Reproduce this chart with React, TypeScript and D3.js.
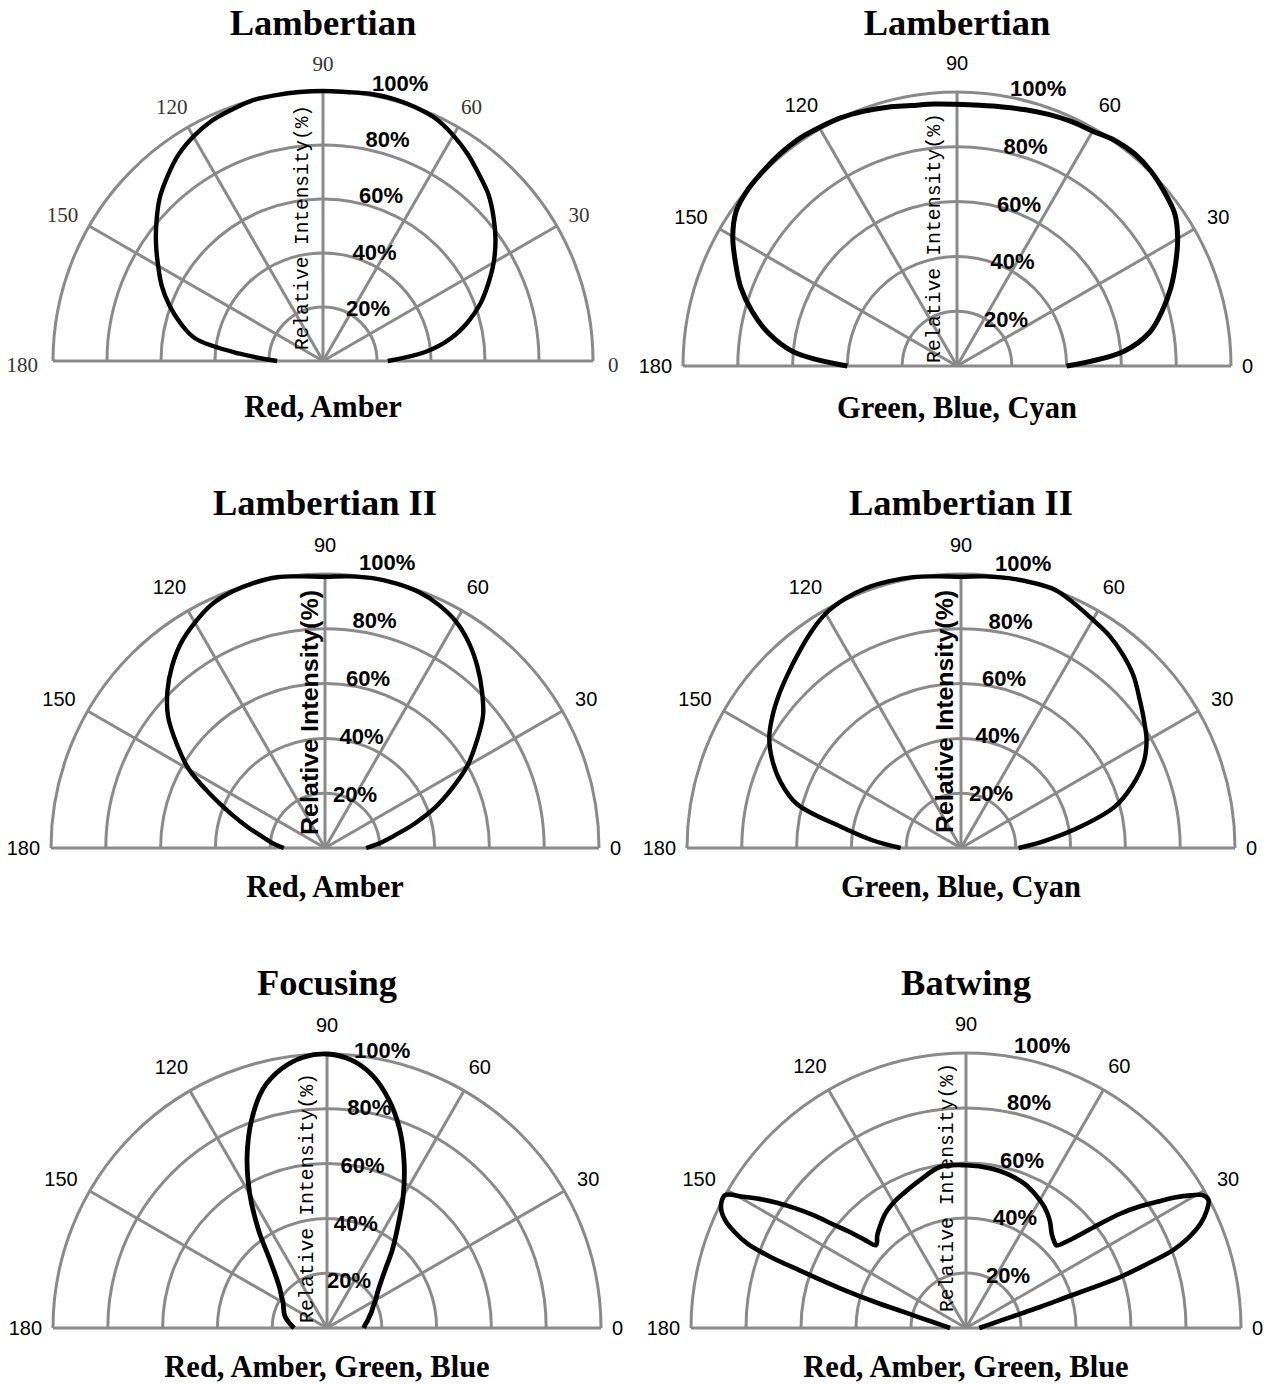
import React from "react";
import * as d3 from "d3";

// ---------- DATA ----------
const angles5 = [0, 5, 10, 15, 20, 25, 30, 35, 40, 45, 50, 55, 60, 65, 70, 75, 80, 85, 90, 95, 100, 105, 110, 115, 120, 125, 130, 135, 140, 145, 150, 155, 160, 165, 170, 175, 180];

const lambertianRedAmber = [24, 38, 48, 55.5, 62, 67.5, 73, 78, 82.5, 86.8, 90, 93.5, 96.5, 99, 100, 100.5, 100.5, 100, 100, 100, 100, 100, 99, 98, 96, 93.3, 89.5, 85.5, 80.5, 75.5, 70.5, 65.9, 60.6, 54.8, 48, 31, 17];
const lambertianGreenBlueCyan = [40, 61, 71.5, 77.5, 83, 88, 93, 97, 98.8, 100.3, 101, 100.5, 99, 98.5, 97.7, 96.8, 96, 95.5, 95.5, 96, 96.5, 97.8, 99, 100, 100.5, 101, 100.8, 100.3, 99.8, 98.4, 94.5, 89.2, 84, 77.5, 70, 60, 40];
const lambertianIIRedAmber = [15, 20, 25.5, 33.5, 42.5, 51, 60, 67.5, 75.3, 81, 86.5, 91.5, 95.5, 98, 99.5, 100, 100, 99.5, 99, 99.5, 100.4, 100.2, 99.5, 98, 95, 91.5, 86.8, 81.3, 74.8, 66, 57.3, 46, 36.5, 29, 23, 19, 15];
const lambertianIIGreenBlueCyan = [21, 31, 44, 58, 66.5, 73.5, 78.2, 81.5, 85, 89, 92, 94.5, 96.2, 98.3, 100.3, 100.3, 100, 99.5, 99, 99.5, 100.4, 100.8, 101, 100.3, 98.8, 95.8, 92.5, 89.5, 86.8, 84, 80.8, 76, 70, 62, 44.5, 32.5, 22];
const focusingRAGB = [13.4, 14, 15, 16, 17.3, 18.6, 20.5, 22.5, 25.5, 30, 37, 45, 55.6, 66.6, 77.4, 86.6, 93.9, 98.3, 100, 99.2, 96, 90.3, 80.6, 69, 56.3, 43.5, 32.4, 26.2, 22.5, 20.3, 18.5, 17.5, 16.7, 15.8, 14.5, 13.2, 12];

const batwingAngles = [0, 5, 10, 12, 14, 15, 15.8, 17, 18.3, 19.5, 20.6, 22, 24, 26, 27.8, 29.3, 30.5, 32, 33.5, 35, 36.5, 38, 40, 42.5, 44, 46, 48, 52, 57, 62, 68, 75, 80.7, 90, 99.2, 107.3, 113, 118.8, 125, 130.5, 134, 136, 137.5, 139, 140.5, 142, 143.5, 145, 146.5, 148, 149.5, 151.1, 152.8, 154.5, 155.9, 157.5, 158.9, 160, 160.9, 162.5, 164.3, 165, 166, 170, 175, 180];
const batwingValues = [4.8, 6.5, 10, 12.8, 18, 22.5, 28, 37.6, 59, 70, 80.3, 87, 93.4, 97.4, 99.7, 98.7, 95, 89.5, 83, 77, 70, 61, 50.5, 44.5, 44.8, 45.5, 46.5, 49.5, 52.4, 54.5, 56.6, 58, 58.7, 59.2, 59.3, 56.3, 54.5, 53, 51, 48.3, 46.5, 45, 44.5, 49, 55, 61, 69, 76, 82.5, 88.6, 94, 100, 100, 98.5, 95.9, 91, 85.2, 76, 64.1, 48, 32.6, 26.7, 21.5, 12, 7.8, 5.8];

const ringLevels = [20, 40, 60, 80, 100];
const ringLabels = ["20%", "40%", "60%", "80%", "100%"];
const spokeAngles = [0, 30, 60, 90, 120, 150, 180];
const spokeLabels = ["0", "30", "60", "90", "120", "150", "180"];

const titles = ["Lambertian", "Lambertian", "Lambertian II", "Lambertian II", "Focusing", "Batwing"];
const subtitles = ["Red, Amber", "Green, Blue, Cyan", "Red, Amber", "Green, Blue, Cyan", "Red, Amber, Green, Blue", "Red, Amber, Green, Blue"];
const axisTitle = "Relative Intensity(%)";

const seriesAngles = [angles5, angles5, angles5, angles5, angles5, batwingAngles];
const seriesValues = [lambertianRedAmber, lambertianGreenBlueCyan, lambertianIIRedAmber, lambertianIIGreenBlueCyan, focusingRAGB, batwingValues];

// ---------- LAYOUT ----------
const panels = [
  { cx: 323, cy: 361, R: 270, titleY: 35, subY: 417, serifTicks: true, riMono: true, riDx: -21, riY: 227.5, riLen: 245, pL20: 23, pL100: 49, pY20: 1, pY100: -8, sw: 4.4 },
  { cx: 957, cy: 366, R: 274, titleY: 35, subY: 418, serifTicks: false, riMono: true, riDx: -23, riY: 238, riLen: 250, pL20: 27, pL100: 53, pY20: 7.5, pY100: -3.5, sw: 5 },
  { cx: 325, cy: 848, R: 274, titleY: 515, subY: 897, serifTicks: false, riMono: false, riDx: -15, riY: 712.5, riLen: 245, pL20: 8, pL100: 34, pY20: 0.5, pY100: -11.5, sw: 4.4 },
  { cx: 961, cy: 848, R: 274, titleY: 515, subY: 897, serifTicks: false, riMono: false, riDx: -16, riY: 711.5, riLen: 243, pL20: 8, pL100: 34, pY20: -0.5, pY100: -10.5, sw: 4.4 },
  { cx: 327, cy: 1328, R: 274, titleY: 995, subY: 1377, serifTicks: false, riMono: true, riDx: -20, riY: 1198, riLen: 250, pL20: 0, pL100: 27, pY20: 7, pY100: -4, sw: 4.8 },
  { cx: 966, cy: 1328, R: 275, titleY: 995, subY: 1377, serifTicks: false, riMono: true, riDx: -19, riY: 1187.5, riLen: 249, pL20: 20, pL100: 48, pY20: 2, pY100: -8, sw: 4.6 },
];

const GRID = "#8a8a8a";
const SANS = "'Liberation Sans', Arial, sans-serif";
const SERIF = "'Liberation Serif', 'Times New Roman', serif";
const MONO = "'Liberation Mono', 'DejaVu Sans Mono', monospace";

function Panel({ p, i }: { p: any; i: number }) {
  const r = d3.scaleLinear().domain([0, 100]).range([0, p.R]);
  const toRad = (deg: number) => (deg * Math.PI) / 180;
  const arc = d3.arc();
  const angs = seriesAngles[i];
  const vals = seriesValues[i];
  const pts: [number, number][] = angs.map((a: number, k: number) => [a, vals[k]]);
  const line = d3
    .lineRadial<[number, number]>()
    .angle((d) => Math.PI / 2 - toRad(d[0]))
    .radius((d) => r(d[1]))
    .curve(d3.curveCatmullRom.alpha(0.5));

  const tickFs = p.serifTicks ? 21 : 20;
  const pctFs = 22;

  return (
    <g>
      <text x={p.cx} y={p.titleY} textAnchor="middle" fontFamily={SERIF} fontWeight="bold" fontSize={36.5} fill="#000">
        {titles[i]}
      </text>
      <text x={p.cx} y={p.subY} textAnchor="middle" fontFamily={SERIF} fontWeight="bold" fontSize={30.5} fill="#000">
        {subtitles[i]}
      </text>
      <g transform={`translate(${p.cx},${p.cy})`}>
        {ringLevels.map((lv) => (
          <path
            key={"ring" + lv}
            d={arc({ innerRadius: r(lv), outerRadius: r(lv), startAngle: -Math.PI / 2, endAngle: Math.PI / 2 } as any) as string}
            fill="none"
            stroke={GRID}
            strokeWidth={3}
          />
        ))}
        {spokeAngles.map((a) => (
          <line
            key={"sp" + a}
            x1={0}
            y1={0}
            x2={r(100) * Math.cos(toRad(a))}
            y2={-r(100) * Math.sin(toRad(a))}
            stroke={GRID}
            strokeWidth={3}
          />
        ))}
        {spokeAngles.map((a, k) => {
          const c = Math.cos(toRad(a));
          const s = Math.sin(toRad(a));
          const label = spokeLabels[k];
          const w = label.length * (p.serifTicks ? 0.5 : 0.556) * tickFs;
          const h = 0.72 * tickFs;
          const dd = p.serifTicks ? 15 + 5 * Math.pow(s, 8) : 11 + 11 * s;
          const bx = (p.R + dd) * c + (c * w) / 2;
          let by = -(p.R + dd) * s - (s * h) / 2;
          if (p.serifTicks && (a === 0 || a === 180)) by += 3;
          return (
            <text
              key={"sl" + a}
              x={bx}
              y={by + 0.36 * tickFs}
              textAnchor="middle"
              fontFamily={p.serifTicks ? SERIF : SANS}
              fontSize={tickFs}
              fill={p.serifTicks ? "#333" : "#000"}
            >
              {label}
            </text>
          );
        })}
        {ringLevels.map((lv, k) => {
          const t = k / 4;
          const left = p.pL20 + (p.pL100 - p.pL20) * t;
          const yc = -r(lv) + p.pY20 + (p.pY100 - p.pY20) * t;
          return (
            <text key={"pl" + lv} x={left} y={yc + 0.36 * pctFs} fontFamily={SANS} fontWeight="bold" fontSize={pctFs} fill="#000">
              {ringLabels[k]}
            </text>
          );
        })}
        <text
          x={p.riDx}
          y={p.riY - p.cy}
          transform={`rotate(-90 ${p.riDx} ${p.riY - p.cy})`}
          textAnchor="middle"
          dominantBaseline="central"
          fontFamily={p.riMono ? MONO : SANS}
          fontWeight="bold"
          fontSize={p.riMono ? 21 : 23}
          textLength={p.riLen}
          lengthAdjust="spacingAndGlyphs"
          fill="#000"
          style={p.riMono ? { fontWeight: 500 } : undefined}
        >
          {axisTitle}
        </text>
        <path d={line(pts) as string} fill="none" stroke="#000" strokeWidth={p.sw} strokeLinejoin="round" strokeLinecap="butt" />
      </g>
    </g>
  );
}

export default function App() {
  return (
    <svg width={1269} height={1384} style={{ position: "absolute", left: 0, top: 0, background: "#fff" }}>
      <rect x={0} y={0} width={1269} height={1384} fill="#fff" />
      {panels.map((p, i) => (
        <Panel key={i} p={p} i={i} />
      ))}
    </svg>
  );
}
